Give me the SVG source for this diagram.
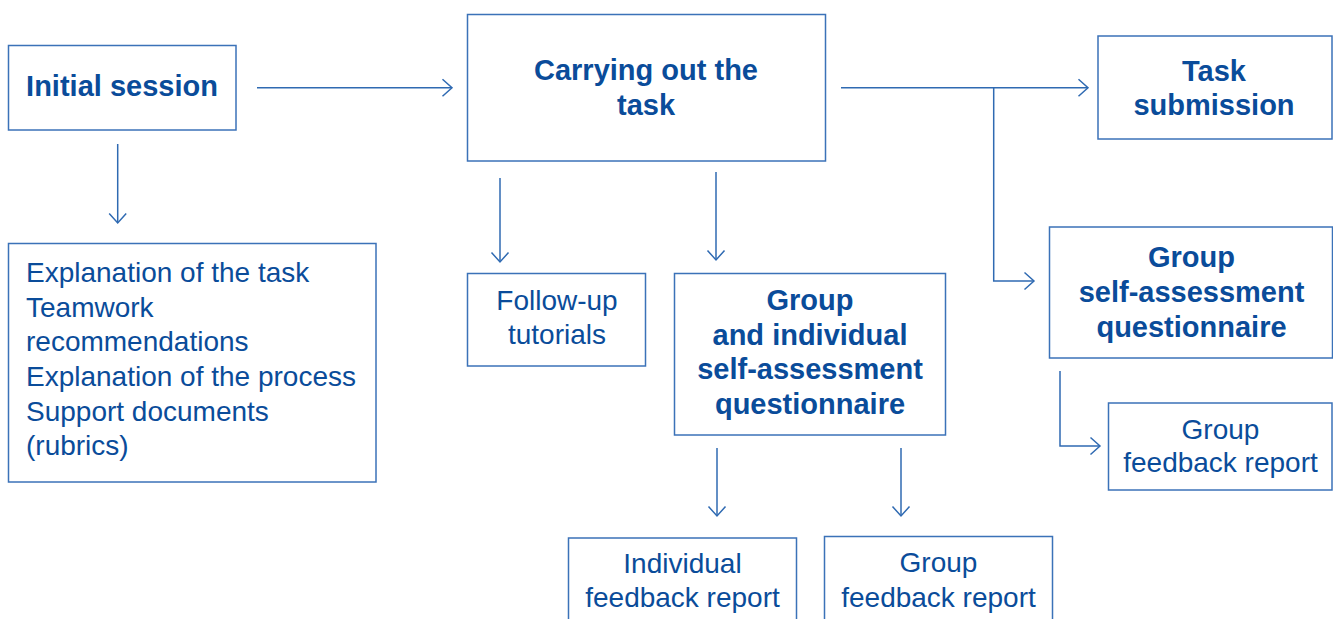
<svg xmlns="http://www.w3.org/2000/svg" width="1333" height="619" viewBox="0 0 1333 619">
  <style>
    .box { fill: #ffffff; stroke: #3b72b8; stroke-width: 1.5; }
    .edge { fill: none; stroke: #2f6ab2; stroke-width: 1.5; }
    .t { font-family: "Liberation Sans", Arial, Helvetica, sans-serif; fill: #0a4c9a; }
    .b { font-weight: bold; font-size: 29px; }
    .r { font-weight: normal; font-size: 28px; }
    .c { text-anchor: middle; }
  </style>
  <defs>
    <marker id="chev" viewBox="0 0 10 18" refX="10" refY="9" markerWidth="10" markerHeight="18" markerUnits="userSpaceOnUse" orient="auto" overflow="visible">
      <path d="M0.5,0.5 L10,9 L0.5,17.5" fill="none" stroke="#2f6ab2" stroke-width="1.5"/>
    </marker>
  </defs>

  <rect width="1333" height="619" fill="#ffffff"/>

  <g id="connectors">
    <path class="edge" d="M257,87.7 H452" marker-end="url(#chev)"/>
    <path class="edge" d="M117.7,144 V223" marker-end="url(#chev)"/>
    <path class="edge" d="M500,178 V262" marker-end="url(#chev)"/>
    <path class="edge" d="M716,172 V260" marker-end="url(#chev)"/>
    <path class="edge" d="M841,87.7 H1088" marker-end="url(#chev)"/>
    <path class="edge" d="M993.7,87.7 V281 H1034" marker-end="url(#chev)"/>
    <path class="edge" d="M717,448 V516" marker-end="url(#chev)"/>
    <path class="edge" d="M901,448 V516" marker-end="url(#chev)"/>
    <path class="edge" d="M1060,371 V446 H1100" marker-end="url(#chev)"/>
  </g>

  <g id="initial-session">
    <rect class="box" x="8.5" y="45.5" width="227.5" height="84.5"/>
    <text class="t b c" x="122" y="96">Initial session</text>
  </g>

  <g id="session-contents">
    <rect class="box" x="8.5" y="243.5" width="367.5" height="238.5"/>
    <text class="t r" x="26" y="282">Explanation of the task</text>
    <text class="t r" x="26" y="316.5">Teamwork</text>
    <text class="t r" x="26" y="351">recommendations</text>
    <text class="t r" x="26" y="386">Explanation of the process</text>
    <text class="t r" x="26" y="420.5">Support documents</text>
    <text class="t r" x="26" y="455">(rubrics)</text>
  </g>

  <g id="carrying-out">
    <rect class="box" x="467.5" y="14.5" width="358" height="146.5"/>
    <text class="t b c" x="646" y="80">Carrying out the</text>
    <text class="t b c" x="646" y="115">task</text>
  </g>

  <g id="task-submission">
    <rect class="box" x="1098" y="36" width="234" height="103"/>
    <text class="t b c" x="1214" y="80.5">Task</text>
    <text class="t b c" x="1214" y="115">submission</text>
  </g>

  <g id="follow-up">
    <rect class="box" x="467.5" y="273.5" width="178" height="92.5"/>
    <text class="t r c" x="557" y="310">Follow-up</text>
    <text class="t r c" x="557" y="343.5">tutorials</text>
  </g>

  <g id="group-individual-questionnaire">
    <rect class="box" x="674.5" y="273.5" width="271" height="161.5"/>
    <text class="t b c" x="810" y="310">Group</text>
    <text class="t b c" x="810" y="344.5">and individual</text>
    <text class="t b c" x="810" y="379">self-assessment</text>
    <text class="t b c" x="810" y="413.5">questionnaire</text>
  </g>

  <g id="group-questionnaire">
    <rect class="box" x="1049.5" y="227" width="283" height="131"/>
    <text class="t b c" x="1191.5" y="267">Group</text>
    <text class="t b c" x="1191.5" y="301.5">self-assessment</text>
    <text class="t b c" x="1191.5" y="336.5">questionnaire</text>
  </g>

  <g id="group-feedback-right">
    <rect class="box" x="1108.5" y="403" width="223.5" height="87"/>
    <text class="t r c" x="1220.5" y="438.5">Group</text>
    <text class="t r c" x="1220.5" y="472">feedback report</text>
  </g>

  <g id="individual-feedback">
    <rect class="box" x="568.5" y="538" width="228" height="110"/>
    <text class="t r c" x="682.5" y="573">Individual</text>
    <text class="t r c" x="682.5" y="607">feedback report</text>
  </g>

  <g id="group-feedback-bottom">
    <rect class="box" x="824.5" y="536.5" width="228" height="110"/>
    <text class="t r c" x="938.5" y="572">Group</text>
    <text class="t r c" x="938.5" y="606.5">feedback report</text>
  </g>
</svg>
